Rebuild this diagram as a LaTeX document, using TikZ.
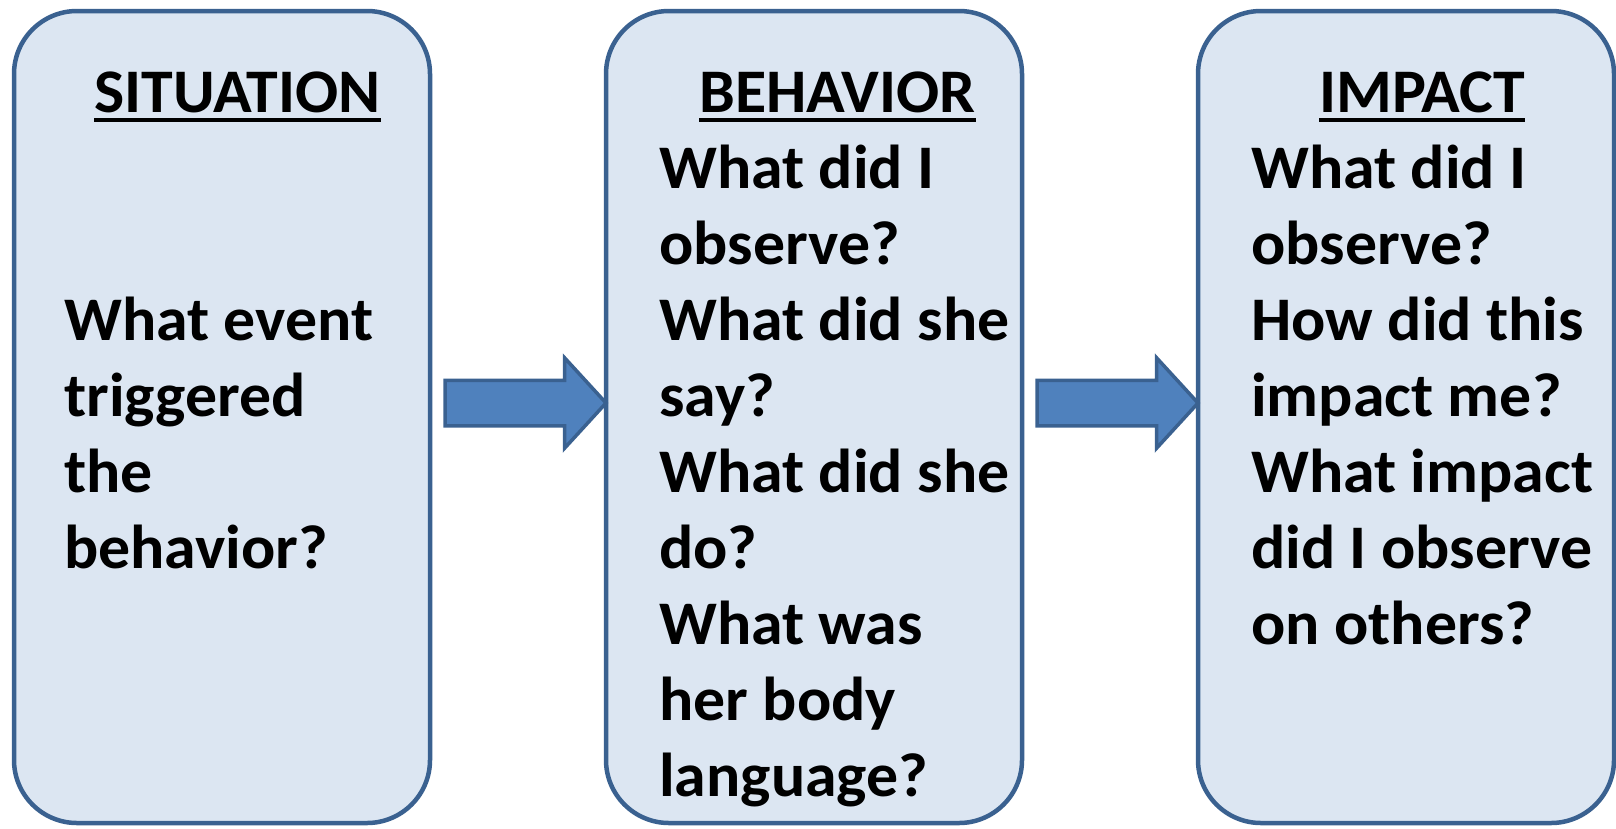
\documentclass[tikz,border=0pt]{standalone}
\usepackage{fontspec}
\setmainfont{Carlito}[FakeStretch=1.03]
\usetikzlibrary{shapes.arrows}
\definecolor{boxfill}{HTML}{DCE6F2}
\definecolor{boxline}{HTML}{3A6190}
\definecolor{arrfill}{HTML}{4F81BD}
\definecolor{arrline}{HTML}{3A6190}
\newsavebox\hdbox
\newcommand{\hdul}[1]{\sbox\hdbox{#1}\rlap{\rule[-9.8pt]{\wd\hdbox}{3.6pt}}\usebox\hdbox}

\begin{document}
\begin{tikzpicture}[x=1pt,y=-1pt]
%%%%%%%%%%%%%%%%%%%%%%%%%%%%%%%%%%%%%%%%%%%%%%%%%%%%%%%%
% STYLE
\tikzstyle{box}=[rectangle,draw=boxline,fill=boxfill,line width=4.5pt,rounded corners=63pt,minimum width=416pt,minimum height=812pt,outer sep=0pt,inner sep=0pt]
\tikzstyle{arrw}=[single arrow,draw=arrline,fill=arrfill,line width=3.5pt,minimum height=161pt,inner xsep=0pt,inner ysep=21pt,single arrow head extend=22.5pt,single arrow tip angle=95,anchor=tip,outer sep=0pt,yshift=14pt]
\tikzstyle{txt}=[inner sep=0pt,anchor=base west,font=\fontsize{62}{76}\selectfont\bfseries]

\useasboundingbox (0,0) rectangle (1616,828);
%%%%%%%%%%%%%%%%%%%%%%%%%%%%%%%%%%%%%%%%%%%%%%%%%%%%%%%%
% NODES
\node[box] (sit) at (222,417) {};
\node[box] (beh) at (814,417) {};
\node[box] (imp) at (1406,417) {};

\node[txt] (sithd) at (94,112) {\hdul{SITUATION}};
\node[txt] (behhd) at (699,112) {\hdul{BEHAVIOR}};
\node[txt] (imphd) at (1319,112) {\hdul{IMPACT}};

\node[txt] (sittxt) at (64,340) {\begin{tabular}[t]{@{}l@{}}What event\\triggered\\the\\behavior?\end{tabular}};
\node[txt] (behtxt) at (659,188) {\begin{tabular}[t]{@{}l@{}}What did I\\observe?\\What did she\\say?\\What did she\\do?\\What was\\her body\\language?\end{tabular}};
\node[txt] (imptxt) at (1251,188) {\begin{tabular}[t]{@{}l@{}}What did I\\observe?\\How did this\\impact me?\\What impact\\did I observe\\on others?\end{tabular}};
%%%%%%%%%%%%%%%%%%%%%%%%%%%%%%%%%%%%%%%%%%%%%%%%%%%%%%%%
% LINKS
\node[arrw] (arr1) at (beh.west) {};
\node[arrw] (arr2) at (imp.west) {};
\end{tikzpicture}
\end{document}
